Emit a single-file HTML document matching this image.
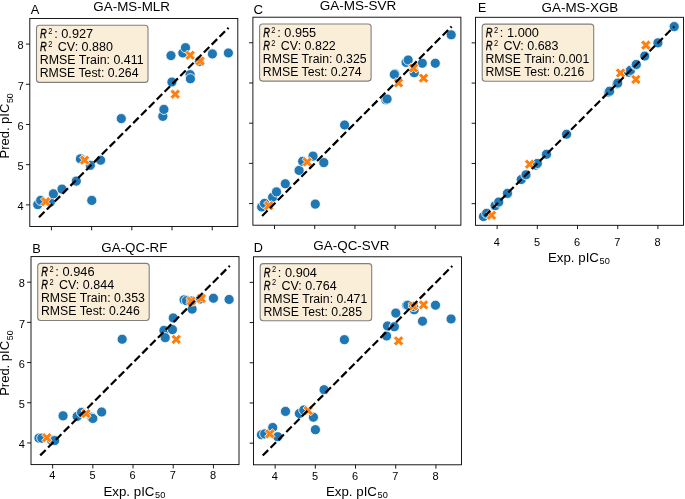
<!DOCTYPE html><html><head><meta charset="utf-8"><style>html,body{margin:0;padding:0;background:#fff;width:685px;height:499px;overflow:hidden}svg{display:block}text{font-family:"Liberation Sans",sans-serif;fill:#000}</style></head><body>
<svg width="685" height="499" viewBox="0 0 685 499">
<circle cx="37.72" cy="204.59" r="5.05" fill="#1f77b4" stroke="#fff" stroke-width="0.8"/>
<circle cx="40.69" cy="200.41" r="5.05" fill="#1f77b4" stroke="#fff" stroke-width="0.8"/>
<circle cx="50.30" cy="202.21" r="5.05" fill="#1f77b4" stroke="#fff" stroke-width="0.8"/>
<circle cx="53.40" cy="193.81" r="5.05" fill="#1f77b4" stroke="#fff" stroke-width="0.8"/>
<circle cx="62.00" cy="189.11" r="5.05" fill="#1f77b4" stroke="#fff" stroke-width="0.8"/>
<circle cx="76.31" cy="181.11" r="5.05" fill="#1f77b4" stroke="#fff" stroke-width="0.8"/>
<circle cx="80.41" cy="158.92" r="5.05" fill="#1f77b4" stroke="#fff" stroke-width="0.8"/>
<circle cx="90.30" cy="165.31" r="5.05" fill="#1f77b4" stroke="#fff" stroke-width="0.8"/>
<circle cx="91.79" cy="200.41" r="5.05" fill="#1f77b4" stroke="#fff" stroke-width="0.8"/>
<circle cx="100.59" cy="160.20" r="5.05" fill="#1f77b4" stroke="#fff" stroke-width="0.8"/>
<circle cx="121.30" cy="118.60" r="5.05" fill="#1f77b4" stroke="#fff" stroke-width="0.8"/>
<circle cx="162.82" cy="116.31" r="5.05" fill="#1f77b4" stroke="#fff" stroke-width="0.8"/>
<circle cx="163.91" cy="109.39" r="5.05" fill="#1f77b4" stroke="#fff" stroke-width="0.8"/>
<circle cx="170.98" cy="55.60" r="5.05" fill="#1f77b4" stroke="#fff" stroke-width="0.8"/>
<circle cx="171.91" cy="82.02" r="5.05" fill="#1f77b4" stroke="#fff" stroke-width="0.8"/>
<circle cx="182.80" cy="52.99" r="5.05" fill="#1f77b4" stroke="#fff" stroke-width="0.8"/>
<circle cx="185.49" cy="47.69" r="5.05" fill="#1f77b4" stroke="#fff" stroke-width="0.8"/>
<circle cx="190.12" cy="74.62" r="5.05" fill="#1f77b4" stroke="#fff" stroke-width="0.8"/>
<circle cx="190.40" cy="78.80" r="5.05" fill="#1f77b4" stroke="#fff" stroke-width="0.8"/>
<circle cx="199.32" cy="61.51" r="5.05" fill="#1f77b4" stroke="#fff" stroke-width="0.8"/>
<circle cx="212.39" cy="53.92" r="5.05" fill="#1f77b4" stroke="#fff" stroke-width="0.8"/>
<circle cx="228.39" cy="52.99" r="5.05" fill="#1f77b4" stroke="#fff" stroke-width="0.8"/>
<path d="M43.02,196.54 L45.60,199.12 L48.17,196.54 L50.75,199.12 L48.17,201.69 L50.75,204.27 L48.17,206.84 L45.60,204.27 L43.02,206.84 L40.45,204.27 L43.02,201.69 L40.45,199.12 Z" fill="#ff7f0e" stroke="#fff" stroke-width="0.8"/>
<path d="M82.02,155.05 L84.59,157.63 L87.17,155.05 L89.74,157.63 L87.17,160.20 L89.74,162.78 L87.17,165.35 L84.59,162.78 L82.02,165.35 L79.44,162.78 L82.02,160.20 L79.44,157.63 Z" fill="#ff7f0e" stroke="#fff" stroke-width="0.8"/>
<path d="M172.63,89.05 L175.20,91.62 L177.78,89.05 L180.35,91.62 L177.78,94.20 L180.35,96.77 L177.78,99.35 L175.20,96.77 L172.63,99.35 L170.05,96.77 L172.63,94.20 L170.05,91.62 Z" fill="#ff7f0e" stroke="#fff" stroke-width="0.8"/>
<path d="M187.54,50.05 L190.12,52.63 L192.69,50.05 L195.27,52.63 L192.69,55.20 L195.27,57.78 L192.69,60.35 L190.12,57.78 L187.54,60.35 L184.97,57.78 L187.54,55.20 L184.97,52.63 Z" fill="#ff7f0e" stroke="#fff" stroke-width="0.8"/>
<path d="M197.51,55.88 L200.09,58.46 L202.66,55.88 L205.24,58.46 L202.66,61.03 L205.24,63.61 L202.66,66.18 L200.09,63.61 L197.51,66.18 L194.94,63.61 L197.51,61.03 L194.94,58.46 Z" fill="#ff7f0e" stroke="#fff" stroke-width="0.8"/>
<line x1="39.01" y1="217.29" x2="228.59" y2="27.71" stroke="#000" stroke-width="2.2" stroke-dasharray="7.75 3.35"/>
<rect x="29.80" y="18.50" width="208.0" height="208.0" fill="none" stroke="#000" stroke-width="0.9"/>
<line x1="51.43" y1="226.50" x2="51.43" y2="230.35" stroke="#000" stroke-width="0.9"/>
<line x1="25.95" y1="204.87" x2="29.80" y2="204.87" stroke="#000" stroke-width="0.9"/>
<line x1="91.63" y1="226.50" x2="91.63" y2="230.35" stroke="#000" stroke-width="0.9"/>
<line x1="25.95" y1="164.67" x2="29.80" y2="164.67" stroke="#000" stroke-width="0.9"/>
<line x1="131.83" y1="226.50" x2="131.83" y2="230.35" stroke="#000" stroke-width="0.9"/>
<line x1="25.95" y1="124.47" x2="29.80" y2="124.47" stroke="#000" stroke-width="0.9"/>
<line x1="172.03" y1="226.50" x2="172.03" y2="230.35" stroke="#000" stroke-width="0.9"/>
<line x1="25.95" y1="84.27" x2="29.80" y2="84.27" stroke="#000" stroke-width="0.9"/>
<line x1="212.23" y1="226.50" x2="212.23" y2="230.35" stroke="#000" stroke-width="0.9"/>
<line x1="25.95" y1="44.07" x2="29.80" y2="44.07" stroke="#000" stroke-width="0.9"/>
<circle cx="261.66" cy="206.90" r="5.05" fill="#1f77b4" stroke="#fff" stroke-width="0.8"/>
<circle cx="264.48" cy="203.41" r="5.05" fill="#1f77b4" stroke="#fff" stroke-width="0.8"/>
<circle cx="272.60" cy="197.22" r="5.05" fill="#1f77b4" stroke="#fff" stroke-width="0.8"/>
<circle cx="276.50" cy="191.91" r="5.05" fill="#1f77b4" stroke="#fff" stroke-width="0.8"/>
<circle cx="285.30" cy="183.79" r="5.05" fill="#1f77b4" stroke="#fff" stroke-width="0.8"/>
<circle cx="299.09" cy="170.40" r="5.05" fill="#1f77b4" stroke="#fff" stroke-width="0.8"/>
<circle cx="302.67" cy="161.36" r="5.05" fill="#1f77b4" stroke="#fff" stroke-width="0.8"/>
<circle cx="313.00" cy="156.13" r="5.05" fill="#1f77b4" stroke="#fff" stroke-width="0.8"/>
<circle cx="315.29" cy="204.09" r="5.05" fill="#1f77b4" stroke="#fff" stroke-width="0.8"/>
<circle cx="323.81" cy="162.60" r="5.05" fill="#1f77b4" stroke="#fff" stroke-width="0.8"/>
<circle cx="344.60" cy="125.02" r="5.05" fill="#1f77b4" stroke="#fff" stroke-width="0.8"/>
<circle cx="385.88" cy="99.85" r="5.05" fill="#1f77b4" stroke="#fff" stroke-width="0.8"/>
<circle cx="387.09" cy="99.01" r="5.05" fill="#1f77b4" stroke="#fff" stroke-width="0.8"/>
<circle cx="394.89" cy="73.80" r="5.05" fill="#1f77b4" stroke="#fff" stroke-width="0.8"/>
<circle cx="394.32" cy="74.53" r="5.05" fill="#1f77b4" stroke="#fff" stroke-width="0.8"/>
<circle cx="406.10" cy="62.42" r="5.05" fill="#1f77b4" stroke="#fff" stroke-width="0.8"/>
<circle cx="408.19" cy="60.01" r="5.05" fill="#1f77b4" stroke="#fff" stroke-width="0.8"/>
<circle cx="413.62" cy="70.91" r="5.05" fill="#1f77b4" stroke="#fff" stroke-width="0.8"/>
<circle cx="414.22" cy="72.72" r="5.05" fill="#1f77b4" stroke="#fff" stroke-width="0.8"/>
<circle cx="422.30" cy="63.27" r="5.05" fill="#1f77b4" stroke="#fff" stroke-width="0.8"/>
<circle cx="435.29" cy="63.27" r="5.05" fill="#1f77b4" stroke="#fff" stroke-width="0.8"/>
<circle cx="451.21" cy="34.81" r="5.05" fill="#1f77b4" stroke="#fff" stroke-width="0.8"/>
<path d="M266.12,200.55 L268.70,203.12 L271.27,200.55 L273.85,203.12 L271.27,205.70 L273.85,208.27 L271.27,210.85 L268.70,208.27 L266.12,210.85 L263.55,208.27 L266.12,205.70 L263.55,203.12 Z" fill="#ff7f0e" stroke="#fff" stroke-width="0.8"/>
<path d="M304.64,156.77 L307.21,159.34 L309.79,156.77 L312.36,159.34 L309.79,161.92 L312.36,164.49 L309.79,167.07 L307.21,164.49 L304.64,167.07 L302.06,164.49 L304.64,161.92 L302.06,159.34 Z" fill="#ff7f0e" stroke="#fff" stroke-width="0.8"/>
<path d="M395.93,77.66 L398.50,80.23 L401.08,77.66 L403.65,80.23 L401.08,82.81 L403.65,85.38 L401.08,87.96 L398.50,85.38 L395.93,87.96 L393.35,85.38 L395.93,82.81 L393.35,80.23 Z" fill="#ff7f0e" stroke="#fff" stroke-width="0.8"/>
<path d="M411.00,62.86 L413.58,65.44 L416.15,62.86 L418.73,65.44 L416.15,68.01 L418.73,70.59 L416.15,73.16 L413.58,70.59 L411.00,73.16 L408.43,70.59 L411.00,68.01 L408.43,65.44 Z" fill="#ff7f0e" stroke="#fff" stroke-width="0.8"/>
<path d="M421.01,72.95 L423.59,75.53 L426.16,72.95 L428.74,75.53 L426.16,78.10 L428.74,80.68 L426.16,83.25 L423.59,80.68 L421.01,83.25 L418.44,80.68 L421.01,78.10 L418.44,75.53 Z" fill="#ff7f0e" stroke="#fff" stroke-width="0.8"/>
<line x1="262.11" y1="215.99" x2="451.69" y2="26.41" stroke="#000" stroke-width="2.2" stroke-dasharray="7.75 3.35"/>
<rect x="252.90" y="17.20" width="208.0" height="208.0" fill="none" stroke="#000" stroke-width="0.9"/>
<line x1="274.53" y1="225.20" x2="274.53" y2="229.05" stroke="#000" stroke-width="0.9"/>
<line x1="249.05" y1="203.57" x2="252.90" y2="203.57" stroke="#000" stroke-width="0.9"/>
<line x1="314.73" y1="225.20" x2="314.73" y2="229.05" stroke="#000" stroke-width="0.9"/>
<line x1="249.05" y1="163.37" x2="252.90" y2="163.37" stroke="#000" stroke-width="0.9"/>
<line x1="354.93" y1="225.20" x2="354.93" y2="229.05" stroke="#000" stroke-width="0.9"/>
<line x1="249.05" y1="123.17" x2="252.90" y2="123.17" stroke="#000" stroke-width="0.9"/>
<line x1="395.13" y1="225.20" x2="395.13" y2="229.05" stroke="#000" stroke-width="0.9"/>
<line x1="249.05" y1="82.97" x2="252.90" y2="82.97" stroke="#000" stroke-width="0.9"/>
<line x1="435.33" y1="225.20" x2="435.33" y2="229.05" stroke="#000" stroke-width="0.9"/>
<line x1="249.05" y1="42.77" x2="252.90" y2="42.77" stroke="#000" stroke-width="0.9"/>
<circle cx="483.46" cy="216.53" r="5.05" fill="#1f77b4" stroke="#fff" stroke-width="0.8"/>
<circle cx="486.68" cy="213.32" r="5.05" fill="#1f77b4" stroke="#fff" stroke-width="0.8"/>
<circle cx="495.12" cy="205.68" r="5.05" fill="#1f77b4" stroke="#fff" stroke-width="0.8"/>
<circle cx="498.74" cy="202.06" r="5.05" fill="#1f77b4" stroke="#fff" stroke-width="0.8"/>
<circle cx="507.42" cy="193.38" r="5.05" fill="#1f77b4" stroke="#fff" stroke-width="0.8"/>
<circle cx="521.25" cy="179.55" r="5.05" fill="#1f77b4" stroke="#fff" stroke-width="0.8"/>
<circle cx="525.99" cy="174.80" r="5.05" fill="#1f77b4" stroke="#fff" stroke-width="0.8"/>
<circle cx="535.72" cy="165.08" r="5.05" fill="#1f77b4" stroke="#fff" stroke-width="0.8"/>
<circle cx="537.33" cy="163.47" r="5.05" fill="#1f77b4" stroke="#fff" stroke-width="0.8"/>
<circle cx="546.49" cy="154.30" r="5.05" fill="#1f77b4" stroke="#fff" stroke-width="0.8"/>
<circle cx="566.59" cy="134.20" r="5.05" fill="#1f77b4" stroke="#fff" stroke-width="0.8"/>
<circle cx="608.52" cy="92.27" r="5.05" fill="#1f77b4" stroke="#fff" stroke-width="0.8"/>
<circle cx="609.61" cy="91.19" r="5.05" fill="#1f77b4" stroke="#fff" stroke-width="0.8"/>
<circle cx="616.92" cy="83.87" r="5.05" fill="#1f77b4" stroke="#fff" stroke-width="0.8"/>
<circle cx="617.73" cy="83.07" r="5.05" fill="#1f77b4" stroke="#fff" stroke-width="0.8"/>
<circle cx="628.58" cy="72.21" r="5.05" fill="#1f77b4" stroke="#fff" stroke-width="0.8"/>
<circle cx="630.43" cy="70.36" r="5.05" fill="#1f77b4" stroke="#fff" stroke-width="0.8"/>
<circle cx="635.70" cy="65.10" r="5.05" fill="#1f77b4" stroke="#fff" stroke-width="0.8"/>
<circle cx="636.30" cy="64.49" r="5.05" fill="#1f77b4" stroke="#fff" stroke-width="0.8"/>
<circle cx="644.74" cy="56.05" r="5.05" fill="#1f77b4" stroke="#fff" stroke-width="0.8"/>
<circle cx="657.93" cy="42.87" r="5.05" fill="#1f77b4" stroke="#fff" stroke-width="0.8"/>
<circle cx="674.21" cy="26.59" r="5.05" fill="#1f77b4" stroke="#fff" stroke-width="0.8"/>
<path d="M488.92,210.18 L491.50,212.75 L494.07,210.18 L496.65,212.75 L494.07,215.33 L496.65,217.90 L494.07,220.48 L491.50,217.90 L488.92,220.48 L486.35,217.90 L488.92,215.33 L486.35,212.75 Z" fill="#ff7f0e" stroke="#fff" stroke-width="0.8"/>
<path d="M527.03,159.12 L529.61,161.70 L532.18,159.12 L534.76,161.70 L532.18,164.27 L534.76,166.85 L532.18,169.42 L529.61,166.85 L527.03,169.42 L524.46,166.85 L527.03,164.27 L524.46,161.70 Z" fill="#ff7f0e" stroke="#fff" stroke-width="0.8"/>
<path d="M617.97,67.87 L620.54,70.44 L623.12,67.87 L625.69,70.44 L623.12,73.02 L625.69,75.59 L623.12,78.17 L620.54,75.59 L617.97,78.17 L615.39,75.59 L617.97,73.02 L615.39,70.44 Z" fill="#ff7f0e" stroke="#fff" stroke-width="0.8"/>
<path d="M633.24,74.30 L635.82,76.87 L638.39,74.30 L640.97,76.87 L638.39,79.45 L640.97,82.02 L638.39,84.60 L635.82,82.02 L633.24,84.60 L630.67,82.02 L633.24,79.45 L630.67,76.87 Z" fill="#ff7f0e" stroke="#fff" stroke-width="0.8"/>
<path d="M643.29,39.97 L645.87,42.54 L648.44,39.97 L651.02,42.54 L648.44,45.12 L651.02,47.69 L648.44,50.27 L645.87,47.69 L643.29,50.27 L640.72,47.69 L643.29,45.12 L640.72,42.54 Z" fill="#ff7f0e" stroke="#fff" stroke-width="0.8"/>
<line x1="484.71" y1="216.09" x2="674.29" y2="26.51" stroke="#000" stroke-width="2.2" stroke-dasharray="7.75 3.35"/>
<rect x="475.50" y="17.30" width="208.0" height="208.0" fill="none" stroke="#000" stroke-width="0.9"/>
<line x1="497.13" y1="225.30" x2="497.13" y2="229.15" stroke="#000" stroke-width="0.9"/>
<line x1="471.65" y1="203.67" x2="475.50" y2="203.67" stroke="#000" stroke-width="0.9"/>
<line x1="537.33" y1="225.30" x2="537.33" y2="229.15" stroke="#000" stroke-width="0.9"/>
<line x1="471.65" y1="163.47" x2="475.50" y2="163.47" stroke="#000" stroke-width="0.9"/>
<line x1="577.53" y1="225.30" x2="577.53" y2="229.15" stroke="#000" stroke-width="0.9"/>
<line x1="471.65" y1="123.27" x2="475.50" y2="123.27" stroke="#000" stroke-width="0.9"/>
<line x1="617.73" y1="225.30" x2="617.73" y2="229.15" stroke="#000" stroke-width="0.9"/>
<line x1="471.65" y1="83.07" x2="475.50" y2="83.07" stroke="#000" stroke-width="0.9"/>
<line x1="657.93" y1="225.30" x2="657.93" y2="229.15" stroke="#000" stroke-width="0.9"/>
<line x1="471.65" y1="42.87" x2="475.50" y2="42.87" stroke="#000" stroke-width="0.9"/>
<circle cx="38.96" cy="438.14" r="5.05" fill="#1f77b4" stroke="#fff" stroke-width="0.8"/>
<circle cx="41.77" cy="438.14" r="5.05" fill="#1f77b4" stroke="#fff" stroke-width="0.8"/>
<circle cx="51.42" cy="440.15" r="5.05" fill="#1f77b4" stroke="#fff" stroke-width="0.8"/>
<circle cx="54.64" cy="440.56" r="5.05" fill="#1f77b4" stroke="#fff" stroke-width="0.8"/>
<circle cx="63.08" cy="415.83" r="5.05" fill="#1f77b4" stroke="#fff" stroke-width="0.8"/>
<circle cx="77.15" cy="416.44" r="5.05" fill="#1f77b4" stroke="#fff" stroke-width="0.8"/>
<circle cx="81.57" cy="412.42" r="5.05" fill="#1f77b4" stroke="#fff" stroke-width="0.8"/>
<circle cx="91.62" cy="417.24" r="5.05" fill="#1f77b4" stroke="#fff" stroke-width="0.8"/>
<circle cx="92.83" cy="418.45" r="5.05" fill="#1f77b4" stroke="#fff" stroke-width="0.8"/>
<circle cx="101.67" cy="412.01" r="5.05" fill="#1f77b4" stroke="#fff" stroke-width="0.8"/>
<circle cx="122.17" cy="339.25" r="5.05" fill="#1f77b4" stroke="#fff" stroke-width="0.8"/>
<circle cx="163.98" cy="330.41" r="5.05" fill="#1f77b4" stroke="#fff" stroke-width="0.8"/>
<circle cx="165.19" cy="337.64" r="5.05" fill="#1f77b4" stroke="#fff" stroke-width="0.8"/>
<circle cx="172.42" cy="329.60" r="5.05" fill="#1f77b4" stroke="#fff" stroke-width="0.8"/>
<circle cx="173.23" cy="317.95" r="5.05" fill="#1f77b4" stroke="#fff" stroke-width="0.8"/>
<circle cx="184.08" cy="299.86" r="5.05" fill="#1f77b4" stroke="#fff" stroke-width="0.8"/>
<circle cx="186.49" cy="300.66" r="5.05" fill="#1f77b4" stroke="#fff" stroke-width="0.8"/>
<circle cx="192.12" cy="309.10" r="5.05" fill="#1f77b4" stroke="#fff" stroke-width="0.8"/>
<circle cx="191.72" cy="301.06" r="5.05" fill="#1f77b4" stroke="#fff" stroke-width="0.8"/>
<circle cx="200.16" cy="299.05" r="5.05" fill="#1f77b4" stroke="#fff" stroke-width="0.8"/>
<circle cx="213.43" cy="298.25" r="5.05" fill="#1f77b4" stroke="#fff" stroke-width="0.8"/>
<circle cx="229.11" cy="299.45" r="5.05" fill="#1f77b4" stroke="#fff" stroke-width="0.8"/>
<path d="M44.22,432.59 L46.80,435.17 L49.37,432.59 L51.95,435.17 L49.37,437.74 L51.95,440.32 L49.37,442.89 L46.80,440.32 L44.22,442.89 L41.65,440.32 L44.22,437.74 L41.65,435.17 Z" fill="#ff7f0e" stroke="#fff" stroke-width="0.8"/>
<path d="M83.42,408.47 L85.99,411.05 L88.57,408.47 L91.14,411.05 L88.57,413.62 L91.14,416.20 L88.57,418.77 L85.99,416.20 L83.42,418.77 L80.84,416.20 L83.42,413.62 L80.84,411.05 Z" fill="#ff7f0e" stroke="#fff" stroke-width="0.8"/>
<path d="M173.63,334.26 L176.20,336.84 L178.78,334.26 L181.35,336.84 L178.78,339.41 L181.35,341.99 L178.78,344.56 L176.20,341.99 L173.63,344.56 L171.05,341.99 L173.63,339.41 L171.05,336.84 Z" fill="#ff7f0e" stroke="#fff" stroke-width="0.8"/>
<path d="M188.54,295.83 L191.12,298.41 L193.69,295.83 L196.27,298.41 L193.69,300.98 L196.27,303.56 L193.69,306.13 L191.12,303.56 L188.54,306.13 L185.97,303.56 L188.54,300.98 L185.97,298.41 Z" fill="#ff7f0e" stroke="#fff" stroke-width="0.8"/>
<path d="M198.79,293.34 L201.37,295.91 L203.94,293.34 L206.52,295.91 L203.94,298.49 L206.52,301.06 L203.94,303.64 L201.37,301.06 L198.79,303.64 L196.22,301.06 L198.79,298.49 L196.22,295.91 Z" fill="#ff7f0e" stroke="#fff" stroke-width="0.8"/>
<line x1="40.21" y1="455.39" x2="229.79" y2="265.81" stroke="#000" stroke-width="2.2" stroke-dasharray="7.75 3.35"/>
<rect x="31.00" y="256.60" width="208.0" height="208.0" fill="none" stroke="#000" stroke-width="0.9"/>
<line x1="52.63" y1="464.60" x2="52.63" y2="468.45" stroke="#000" stroke-width="0.9"/>
<line x1="27.15" y1="442.97" x2="31.00" y2="442.97" stroke="#000" stroke-width="0.9"/>
<line x1="92.83" y1="464.60" x2="92.83" y2="468.45" stroke="#000" stroke-width="0.9"/>
<line x1="27.15" y1="402.77" x2="31.00" y2="402.77" stroke="#000" stroke-width="0.9"/>
<line x1="133.03" y1="464.60" x2="133.03" y2="468.45" stroke="#000" stroke-width="0.9"/>
<line x1="27.15" y1="362.57" x2="31.00" y2="362.57" stroke="#000" stroke-width="0.9"/>
<line x1="173.23" y1="464.60" x2="173.23" y2="468.45" stroke="#000" stroke-width="0.9"/>
<line x1="27.15" y1="322.37" x2="31.00" y2="322.37" stroke="#000" stroke-width="0.9"/>
<line x1="213.43" y1="464.60" x2="213.43" y2="468.45" stroke="#000" stroke-width="0.9"/>
<line x1="27.15" y1="282.17" x2="31.00" y2="282.17" stroke="#000" stroke-width="0.9"/>
<circle cx="261.46" cy="434.73" r="5.05" fill="#1f77b4" stroke="#fff" stroke-width="0.8"/>
<circle cx="264.68" cy="433.92" r="5.05" fill="#1f77b4" stroke="#fff" stroke-width="0.8"/>
<circle cx="272.72" cy="427.49" r="5.05" fill="#1f77b4" stroke="#fff" stroke-width="0.8"/>
<circle cx="277.70" cy="436.70" r="5.05" fill="#1f77b4" stroke="#fff" stroke-width="0.8"/>
<circle cx="285.50" cy="411.41" r="5.05" fill="#1f77b4" stroke="#fff" stroke-width="0.8"/>
<circle cx="299.41" cy="413.50" r="5.05" fill="#1f77b4" stroke="#fff" stroke-width="0.8"/>
<circle cx="303.79" cy="410.00" r="5.05" fill="#1f77b4" stroke="#fff" stroke-width="0.8"/>
<circle cx="313.40" cy="417.20" r="5.05" fill="#1f77b4" stroke="#fff" stroke-width="0.8"/>
<circle cx="315.41" cy="429.70" r="5.05" fill="#1f77b4" stroke="#fff" stroke-width="0.8"/>
<circle cx="324.09" cy="389.70" r="5.05" fill="#1f77b4" stroke="#fff" stroke-width="0.8"/>
<circle cx="344.39" cy="339.69" r="5.05" fill="#1f77b4" stroke="#fff" stroke-width="0.8"/>
<circle cx="386.60" cy="335.99" r="5.05" fill="#1f77b4" stroke="#fff" stroke-width="0.8"/>
<circle cx="387.49" cy="325.98" r="5.05" fill="#1f77b4" stroke="#fff" stroke-width="0.8"/>
<circle cx="394.32" cy="326.71" r="5.05" fill="#1f77b4" stroke="#fff" stroke-width="0.8"/>
<circle cx="395.81" cy="313.08" r="5.05" fill="#1f77b4" stroke="#fff" stroke-width="0.8"/>
<circle cx="406.58" cy="305.28" r="5.05" fill="#1f77b4" stroke="#fff" stroke-width="0.8"/>
<circle cx="407.79" cy="305.20" r="5.05" fill="#1f77b4" stroke="#fff" stroke-width="0.8"/>
<circle cx="414.18" cy="309.78" r="5.05" fill="#1f77b4" stroke="#fff" stroke-width="0.8"/>
<circle cx="413.42" cy="306.49" r="5.05" fill="#1f77b4" stroke="#fff" stroke-width="0.8"/>
<circle cx="422.50" cy="321.20" r="5.05" fill="#1f77b4" stroke="#fff" stroke-width="0.8"/>
<circle cx="435.49" cy="305.20" r="5.05" fill="#1f77b4" stroke="#fff" stroke-width="0.8"/>
<circle cx="451.08" cy="318.99" r="5.05" fill="#1f77b4" stroke="#fff" stroke-width="0.8"/>
<path d="M267.21,428.65 L269.78,431.23 L272.36,428.65 L274.93,431.23 L272.36,433.80 L274.93,436.38 L272.36,438.95 L269.78,436.38 L267.21,438.95 L264.63,436.38 L267.21,433.80 L264.63,431.23 Z" fill="#ff7f0e" stroke="#fff" stroke-width="0.8"/>
<path d="M305.64,405.46 L308.21,408.03 L310.79,405.46 L313.36,408.03 L310.79,410.61 L313.36,413.18 L310.79,415.76 L308.21,413.18 L305.64,415.76 L303.06,413.18 L305.64,410.61 L303.06,408.03 Z" fill="#ff7f0e" stroke="#fff" stroke-width="0.8"/>
<path d="M396.01,335.67 L398.58,338.24 L401.16,335.67 L403.73,338.24 L401.16,340.82 L403.73,343.39 L401.16,345.97 L398.58,343.39 L396.01,345.97 L393.43,343.39 L396.01,340.82 L393.43,338.24 Z" fill="#ff7f0e" stroke="#fff" stroke-width="0.8"/>
<path d="M410.72,300.94 L413.30,303.51 L415.87,300.94 L418.44,303.51 L415.87,306.09 L418.44,308.66 L415.87,311.24 L413.30,308.66 L410.72,311.24 L408.15,308.66 L410.72,306.09 L408.15,303.51 Z" fill="#ff7f0e" stroke="#fff" stroke-width="0.8"/>
<path d="M420.93,299.65 L423.51,302.22 L426.08,299.65 L428.66,302.22 L426.08,304.80 L428.66,307.37 L426.08,309.95 L423.51,307.37 L420.93,309.95 L418.36,307.37 L420.93,304.80 L418.36,302.22 Z" fill="#ff7f0e" stroke="#fff" stroke-width="0.8"/>
<line x1="262.71" y1="455.59" x2="452.29" y2="266.01" stroke="#000" stroke-width="2.2" stroke-dasharray="7.75 3.35"/>
<rect x="253.50" y="256.80" width="208.0" height="208.0" fill="none" stroke="#000" stroke-width="0.9"/>
<line x1="275.13" y1="464.80" x2="275.13" y2="468.65" stroke="#000" stroke-width="0.9"/>
<line x1="249.65" y1="443.17" x2="253.50" y2="443.17" stroke="#000" stroke-width="0.9"/>
<line x1="315.33" y1="464.80" x2="315.33" y2="468.65" stroke="#000" stroke-width="0.9"/>
<line x1="249.65" y1="402.97" x2="253.50" y2="402.97" stroke="#000" stroke-width="0.9"/>
<line x1="355.53" y1="464.80" x2="355.53" y2="468.65" stroke="#000" stroke-width="0.9"/>
<line x1="249.65" y1="362.77" x2="253.50" y2="362.77" stroke="#000" stroke-width="0.9"/>
<line x1="395.73" y1="464.80" x2="395.73" y2="468.65" stroke="#000" stroke-width="0.9"/>
<line x1="249.65" y1="322.57" x2="253.50" y2="322.57" stroke="#000" stroke-width="0.9"/>
<line x1="435.93" y1="464.80" x2="435.93" y2="468.65" stroke="#000" stroke-width="0.9"/>
<line x1="249.65" y1="282.37" x2="253.50" y2="282.37" stroke="#000" stroke-width="0.9"/>
<rect x="36.50" y="25.30" width="111.5" height="57.1" rx="3" ry="3" fill="#faeed9" stroke="#808080" stroke-width="1.1"/>
<rect x="259.60" y="24.00" width="111.5" height="57.1" rx="3" ry="3" fill="#faeed9" stroke="#808080" stroke-width="1.1"/>
<rect x="482.20" y="24.10" width="111.5" height="57.1" rx="3" ry="3" fill="#faeed9" stroke="#808080" stroke-width="1.1"/>
<rect x="37.70" y="263.40" width="111.5" height="57.1" rx="3" ry="3" fill="#faeed9" stroke="#808080" stroke-width="1.1"/>
<rect x="260.20" y="263.60" width="111.5" height="57.1" rx="3" ry="3" fill="#faeed9" stroke="#808080" stroke-width="1.1"/>
<g style="filter:grayscale(1)">
<text x="93.38" y="10.80" font-size="13" textLength="76.49" lengthAdjust="spacingAndGlyphs">GA-MS-MLR</text>
<text x="319.77" y="9.70" font-size="13" textLength="76.61" lengthAdjust="spacingAndGlyphs">GA-MS-SVR</text>
<text x="541.58" y="11.80" font-size="13" textLength="76.68" lengthAdjust="spacingAndGlyphs">GA-MS-XGB</text>
<text x="101.38" y="251.50" font-size="13" textLength="66.01" lengthAdjust="spacingAndGlyphs">GA-QC-RF</text>
<text x="313.38" y="250.30" font-size="13" textLength="76.00" lengthAdjust="spacingAndGlyphs">GA-QC-SVR</text>
<text x="30.72" y="13.60" font-size="13" textLength="8.55" lengthAdjust="spacingAndGlyphs">A</text>
<text x="253.48" y="13.50" font-size="13" textLength="9.58" lengthAdjust="spacingAndGlyphs">C</text>
<text x="478.04" y="12.00" font-size="13" textLength="8.25" lengthAdjust="spacingAndGlyphs">E</text>
<text x="32.20" y="253.00" font-size="13" textLength="8.52" lengthAdjust="spacingAndGlyphs">B</text>
<text x="253.71" y="251.90" font-size="13" textLength="9.14" lengthAdjust="spacingAndGlyphs">D</text>
<text x="40.06" y="38.30" font-size="12.3" font-style="italic" stroke="#000" stroke-width="0.3" textLength="6.78" lengthAdjust="spacingAndGlyphs">R</text>
<text x="48.27" y="33.80" font-size="8.6" textLength="4.15" lengthAdjust="spacingAndGlyphs">2</text>
<text x="40.06" y="51.30" font-size="12.3" font-style="italic" stroke="#000" stroke-width="0.3" textLength="6.78" lengthAdjust="spacingAndGlyphs">R</text>
<text x="48.27" y="46.80" font-size="8.6" textLength="4.15" lengthAdjust="spacingAndGlyphs">2</text>
<text x="54.19" y="38.30" font-size="12.3" textLength="39.01" lengthAdjust="spacingAndGlyphs">: 0.927</text>
<text x="57.72" y="51.30" font-size="12.3" textLength="55.22" lengthAdjust="spacingAndGlyphs">CV: 0.880</text>
<text x="39.75" y="64.30" font-size="12.3" textLength="103.80" lengthAdjust="spacingAndGlyphs">RMSE Train: 0.411</text>
<text x="39.76" y="77.30" font-size="12.3" textLength="98.75" lengthAdjust="spacingAndGlyphs">RMSE Test: 0.264</text>
<text x="263.16" y="37.00" font-size="12.3" font-style="italic" stroke="#000" stroke-width="0.3" textLength="6.78" lengthAdjust="spacingAndGlyphs">R</text>
<text x="271.37" y="32.50" font-size="8.6" textLength="4.15" lengthAdjust="spacingAndGlyphs">2</text>
<text x="263.16" y="50.00" font-size="12.3" font-style="italic" stroke="#000" stroke-width="0.3" textLength="6.78" lengthAdjust="spacingAndGlyphs">R</text>
<text x="271.37" y="45.50" font-size="8.6" textLength="4.15" lengthAdjust="spacingAndGlyphs">2</text>
<text x="277.29" y="37.00" font-size="12.3" textLength="38.87" lengthAdjust="spacingAndGlyphs">: 0.955</text>
<text x="280.82" y="50.00" font-size="12.3" textLength="54.96" lengthAdjust="spacingAndGlyphs">CV: 0.822</text>
<text x="262.85" y="63.00" font-size="12.3" textLength="103.77" lengthAdjust="spacingAndGlyphs">RMSE Train: 0.325</text>
<text x="262.86" y="76.00" font-size="12.3" textLength="98.75" lengthAdjust="spacingAndGlyphs">RMSE Test: 0.274</text>
<text x="485.76" y="37.10" font-size="12.3" font-style="italic" stroke="#000" stroke-width="0.3" textLength="6.78" lengthAdjust="spacingAndGlyphs">R</text>
<text x="493.97" y="32.60" font-size="8.6" textLength="4.15" lengthAdjust="spacingAndGlyphs">2</text>
<text x="485.76" y="50.10" font-size="12.3" font-style="italic" stroke="#000" stroke-width="0.3" textLength="6.78" lengthAdjust="spacingAndGlyphs">R</text>
<text x="493.97" y="45.60" font-size="8.6" textLength="4.15" lengthAdjust="spacingAndGlyphs">2</text>
<text x="499.88" y="37.10" font-size="12.3" textLength="39.09" lengthAdjust="spacingAndGlyphs">: 1.000</text>
<text x="503.42" y="50.10" font-size="12.3" textLength="55.12" lengthAdjust="spacingAndGlyphs">CV: 0.683</text>
<text x="485.45" y="63.10" font-size="12.3" textLength="103.80" lengthAdjust="spacingAndGlyphs">RMSE Train: 0.001</text>
<text x="485.46" y="76.10" font-size="12.3" textLength="98.84" lengthAdjust="spacingAndGlyphs">RMSE Test: 0.216</text>
<text x="41.26" y="276.40" font-size="12.3" font-style="italic" stroke="#000" stroke-width="0.3" textLength="6.78" lengthAdjust="spacingAndGlyphs">R</text>
<text x="49.47" y="271.90" font-size="8.6" textLength="4.15" lengthAdjust="spacingAndGlyphs">2</text>
<text x="41.26" y="289.40" font-size="12.3" font-style="italic" stroke="#000" stroke-width="0.3" textLength="6.78" lengthAdjust="spacingAndGlyphs">R</text>
<text x="49.47" y="284.90" font-size="8.6" textLength="4.15" lengthAdjust="spacingAndGlyphs">2</text>
<text x="55.38" y="276.40" font-size="12.3" textLength="39.19" lengthAdjust="spacingAndGlyphs">: 0.946</text>
<text x="58.92" y="289.40" font-size="12.3" textLength="55.21" lengthAdjust="spacingAndGlyphs">CV: 0.844</text>
<text x="40.95" y="302.40" font-size="12.3" textLength="103.88" lengthAdjust="spacingAndGlyphs">RMSE Train: 0.353</text>
<text x="40.96" y="315.40" font-size="12.3" textLength="98.84" lengthAdjust="spacingAndGlyphs">RMSE Test: 0.246</text>
<text x="263.76" y="276.60" font-size="12.3" font-style="italic" stroke="#000" stroke-width="0.3" textLength="6.78" lengthAdjust="spacingAndGlyphs">R</text>
<text x="271.97" y="272.10" font-size="8.6" textLength="4.15" lengthAdjust="spacingAndGlyphs">2</text>
<text x="263.76" y="289.60" font-size="12.3" font-style="italic" stroke="#000" stroke-width="0.3" textLength="6.78" lengthAdjust="spacingAndGlyphs">R</text>
<text x="271.97" y="285.10" font-size="8.6" textLength="4.15" lengthAdjust="spacingAndGlyphs">2</text>
<text x="277.88" y="276.60" font-size="12.3" textLength="39.08" lengthAdjust="spacingAndGlyphs">: 0.904</text>
<text x="281.42" y="289.60" font-size="12.3" textLength="55.21" lengthAdjust="spacingAndGlyphs">CV: 0.764</text>
<text x="263.45" y="302.60" font-size="12.3" textLength="103.80" lengthAdjust="spacingAndGlyphs">RMSE Train: 0.471</text>
<text x="263.46" y="315.60" font-size="12.3" textLength="98.53" lengthAdjust="spacingAndGlyphs">RMSE Test: 0.285</text>
<text x="17.45" y="210.17" font-size="11" textLength="6.12" lengthAdjust="spacingAndGlyphs">4</text>
<text x="17.59" y="169.97" font-size="11" textLength="6.12" lengthAdjust="spacingAndGlyphs">5</text>
<text x="17.62" y="129.77" font-size="11" textLength="6.12" lengthAdjust="spacingAndGlyphs">6</text>
<text x="17.69" y="89.57" font-size="11" textLength="6.12" lengthAdjust="spacingAndGlyphs">7</text>
<text x="17.61" y="49.37" font-size="11" textLength="6.12" lengthAdjust="spacingAndGlyphs">8</text>
<text x="18.65" y="448.27" font-size="11" textLength="6.12" lengthAdjust="spacingAndGlyphs">4</text>
<text x="18.79" y="408.07" font-size="11" textLength="6.12" lengthAdjust="spacingAndGlyphs">5</text>
<text x="18.82" y="367.87" font-size="11" textLength="6.12" lengthAdjust="spacingAndGlyphs">6</text>
<text x="18.89" y="327.67" font-size="11" textLength="6.12" lengthAdjust="spacingAndGlyphs">7</text>
<text x="18.81" y="287.47" font-size="11" textLength="6.12" lengthAdjust="spacingAndGlyphs">8</text>
<text x="49.20" y="479.40" font-size="11" textLength="6.12" lengthAdjust="spacingAndGlyphs">4</text>
<text x="89.38" y="479.40" font-size="11" textLength="6.12" lengthAdjust="spacingAndGlyphs">5</text>
<text x="129.53" y="479.40" font-size="11" textLength="6.12" lengthAdjust="spacingAndGlyphs">6</text>
<text x="169.76" y="479.40" font-size="11" textLength="6.12" lengthAdjust="spacingAndGlyphs">7</text>
<text x="209.97" y="479.40" font-size="11" textLength="6.12" lengthAdjust="spacingAndGlyphs">8</text>
<text x="271.70" y="479.50" font-size="11" textLength="6.12" lengthAdjust="spacingAndGlyphs">4</text>
<text x="311.88" y="479.50" font-size="11" textLength="6.12" lengthAdjust="spacingAndGlyphs">5</text>
<text x="352.03" y="479.50" font-size="11" textLength="6.12" lengthAdjust="spacingAndGlyphs">6</text>
<text x="392.26" y="479.50" font-size="11" textLength="6.12" lengthAdjust="spacingAndGlyphs">7</text>
<text x="432.47" y="479.50" font-size="11" textLength="6.12" lengthAdjust="spacingAndGlyphs">8</text>
<text x="493.70" y="246.10" font-size="11" textLength="6.12" lengthAdjust="spacingAndGlyphs">4</text>
<text x="533.88" y="246.10" font-size="11" textLength="6.12" lengthAdjust="spacingAndGlyphs">5</text>
<text x="574.03" y="246.10" font-size="11" textLength="6.12" lengthAdjust="spacingAndGlyphs">6</text>
<text x="614.26" y="246.10" font-size="11" textLength="6.12" lengthAdjust="spacingAndGlyphs">7</text>
<text x="654.47" y="246.10" font-size="11" textLength="6.12" lengthAdjust="spacingAndGlyphs">8</text>
<text x="103.46" y="495.90" font-size="12.9" textLength="51.00" lengthAdjust="spacingAndGlyphs">Exp. pIC</text>
<text x="155.08" y="498.10" font-size="8.8" textLength="10.23" lengthAdjust="spacingAndGlyphs">50</text>
<text x="325.96" y="495.80" font-size="12.9" textLength="51.00" lengthAdjust="spacingAndGlyphs">Exp. pIC</text>
<text x="377.58" y="498.00" font-size="8.8" textLength="10.23" lengthAdjust="spacingAndGlyphs">50</text>
<text x="547.96" y="261.90" font-size="12.9" textLength="51.00" lengthAdjust="spacingAndGlyphs">Exp. pIC</text>
<text x="599.58" y="264.10" font-size="8.8" textLength="10.23" lengthAdjust="spacingAndGlyphs">50</text>
<text transform="translate(9.30,157.45) rotate(-90)" x="-1.06" y="0" font-size="12.5" textLength="54.76" lengthAdjust="spacingAndGlyphs">Pred. pIC</text>
<text transform="translate(12.60,102.75) rotate(-90)" x="-0.36" y="0" font-size="8.8" textLength="9.90" lengthAdjust="spacingAndGlyphs">50</text>
<text transform="translate(9.30,394.75) rotate(-90)" x="-1.07" y="0" font-size="12.5" textLength="54.86" lengthAdjust="spacingAndGlyphs">Pred. pIC</text>
<text transform="translate(12.60,339.95) rotate(-90)" x="-0.36" y="0" font-size="8.8" textLength="9.90" lengthAdjust="spacingAndGlyphs">50</text>
</g>
</svg></body></html>
